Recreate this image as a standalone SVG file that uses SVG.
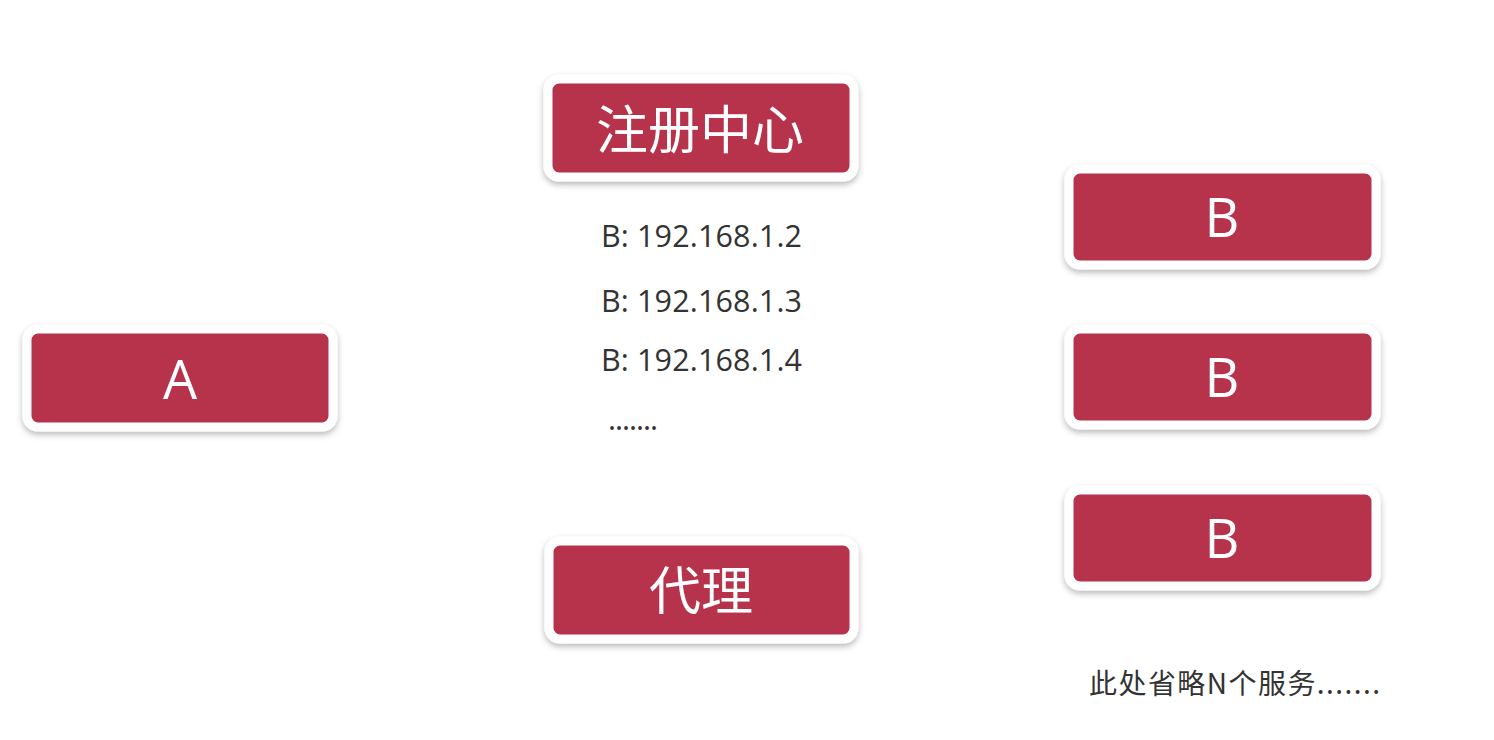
<svg xmlns="http://www.w3.org/2000/svg" width="1494" height="740" viewBox="0 0 1494 740">
<defs>
<filter id="sh" x="-10%" y="-20%" width="120%" height="150%">
<feDropShadow dx="0" dy="3" stdDeviation="3" flood-color="#000" flood-opacity="0.28"/>
</filter>
<style>
.box{fill:#B7304C;stroke:#fff;stroke-width:9;filter:url(#sh)}
.lbl{fill:#fff;font-family:"Open Sans","Noto Sans CJK SC",sans-serif;text-anchor:middle}
.ip{fill:#333;font-family:"Open Sans","Noto Sans CJK SC",sans-serif;font-size:30.5px}
</style>
</defs>
<rect width="1494" height="740" fill="#fff"/>
<g id="registry">
<rect class="box" x="548" y="79" width="306" height="98" rx="11"/>
<text class="lbl" x="700" y="149" font-size="52">注册中心</text>
</g>
<g id="nodeA">
<rect class="box" x="27" y="329" width="306" height="98" rx="11"/>
<text class="lbl" x="180" y="399" font-size="54">A</text>
</g>
<g id="proxy">
<rect class="box" x="549" y="541" width="305" height="98" rx="11"/>
<text class="lbl" x="701" y="610" font-size="52">代理</text>
</g>
<g id="nodeB1">
<rect class="box" x="1069" y="169" width="307" height="96" rx="11"/>
<text class="lbl" x="1222" y="237" font-size="54">B</text>
</g>
<g id="nodeB2">
<rect class="box" x="1069" y="329" width="307" height="96" rx="11"/>
<text class="lbl" x="1222" y="397" font-size="54">B</text>
</g>
<g id="nodeB3">
<rect class="box" x="1069" y="490" width="307" height="96" rx="11"/>
<text class="lbl" x="1222" y="558" font-size="54">B</text>
</g>
<g id="registry-list">
<text class="ip" x="601" y="247" textLength="201">B: 192.168.1.2</text>
<text class="ip" x="601" y="312" textLength="201">B: 192.168.1.3</text>
<text class="ip" x="601" y="371" textLength="201">B: 192.168.1.4</text>
<text class="ip" x="608" y="430" textLength="50">.......</text>
</g>
<g id="note">
<text x="1089" y="694" fill="#333" font-family="'Noto Sans CJK SC','Open Sans',sans-serif" font-size="28" textLength="291">此处省略N个服务.......</text>
</g>
<g id="connectors"></g>
</svg>
